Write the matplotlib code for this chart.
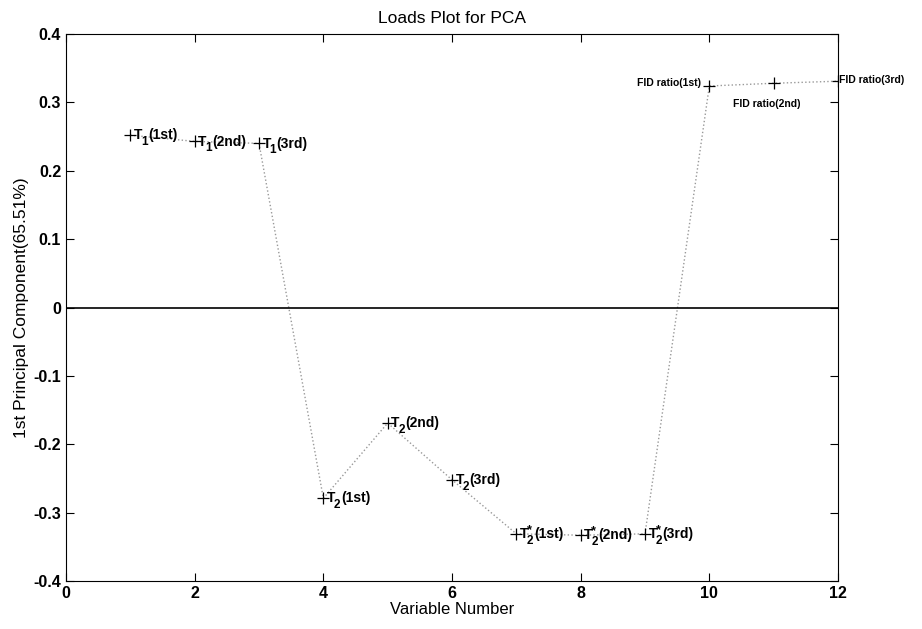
import numpy as np
import matplotlib.pyplot as plt

# loadings
var_num = [1, 2, 3, 4, 5, 6, 7, 8, 9, 10, 11, 12]
loads = [0.252, 0.243, 0.240, -0.279, -0.169, -0.252,
         -0.331, -0.333, -0.331, 0.324, 0.328, 0.331]
# (subscript, starred, suffix) for the T labels
t_labels = [("1", False, "(1st)"), ("1", False, "(2nd)"), ("1", False, "(3rd)"),
            ("2", False, "(1st)"), ("2", False, "(2nd)"), ("2", False, "(3rd)"),
            ("2", True, "(1st)"), ("2", True, "(2nd)"), ("2", True, "(3rd)")]
fid_labels = ["FID ratio(1st)", "FID ratio(2nd)", "FID ratio(3rd)"]
x_ticks = [0, 2, 4, 6, 8, 10, 12]
y_ticks = [-0.4, -0.3, -0.2, -0.1, 0, 0.1, 0.2, 0.3, 0.4]

plt.rcParams["font.family"] = ["Liberation Sans", "DejaVu Sans"]

fig = plt.figure(figsize=(9.22, 6.29), dpi=100)
ax = fig.add_axes([0.0716, 0.0763, 0.8373, 0.8696])

ax.plot(var_num, loads, color="#999999", linestyle=":", linewidth=1.0)
ax.plot(var_num, loads, linestyle="none", marker="+", color="black",
        markersize=9, markeredgewidth=0.9)
ax.axhline(0, color="black", linewidth=1.2)

# T labels built from pieces so the subscript can stay large like the original
fs, fs_sub = 10, 8.5
base_dy = -3
for xv, yv, (sub, star, suffix) in zip(var_num, loads, t_labels):
    t = ax.annotate("T", (xv, yv), xytext=(2.5, base_dy),
                    textcoords="offset points", ha="left", va="baseline",
                    fontsize=fs, fontweight="bold")
    s = ax.annotate(sub, xy=(1, yv), xycoords=(t, "data"),
                    xytext=(-0.8, base_dy - 4), textcoords="offset points",
                    ha="left", va="baseline", fontsize=fs_sub,
                    fontweight="bold")
    if star:
        ax.annotate("*", xy=(1, yv), xycoords=(t, "data"),
                    xytext=(-0.8, base_dy + 3.5), textcoords="offset points",
                    ha="left", va="baseline", fontsize=9, fontweight="bold")
    ax.annotate(suffix, xy=(1, yv), xycoords=(s, "data"),
                xytext=(0.2, base_dy), textcoords="offset points",
                ha="left", va="baseline", fontsize=fs, fontweight="bold")

fid_pos = [(-6, 2, "right"), (-5, -15, "center"), (1, 1, "left")]
for xv, yv, lab, (dx, dy, ha) in zip(var_num[9:], loads[9:], fid_labels, fid_pos):
    ax.annotate(lab, (xv, yv), xytext=(dx, dy), textcoords="offset points",
                ha=ha, va="center", fontsize=7.5, fontweight="bold",
                annotation_clip=False)

ax.set_xlim(0, 12)
ax.set_ylim(-0.4, 0.4)
ax.set_xticks(x_ticks)
ax.set_yticks(y_ticks)
ax.set_yticklabels([f"{v:g}" for v in y_ticks])
ax.tick_params(direction="in", top=True, right=True, length=6,
               labelsize=11.5)
for lbl in ax.get_xticklabels() + ax.get_yticklabels():
    lbl.set_fontweight("bold")

ax.set_xlabel("Variable Number", fontsize=12, labelpad=1)
ax.set_ylabel("1st Principal Component(65.51%)", fontsize=12.5, labelpad=3)
ax.set_title("Loads Plot for PCA", fontsize=12.5, pad=8)

fig.savefig("out.png", dpi=100)
